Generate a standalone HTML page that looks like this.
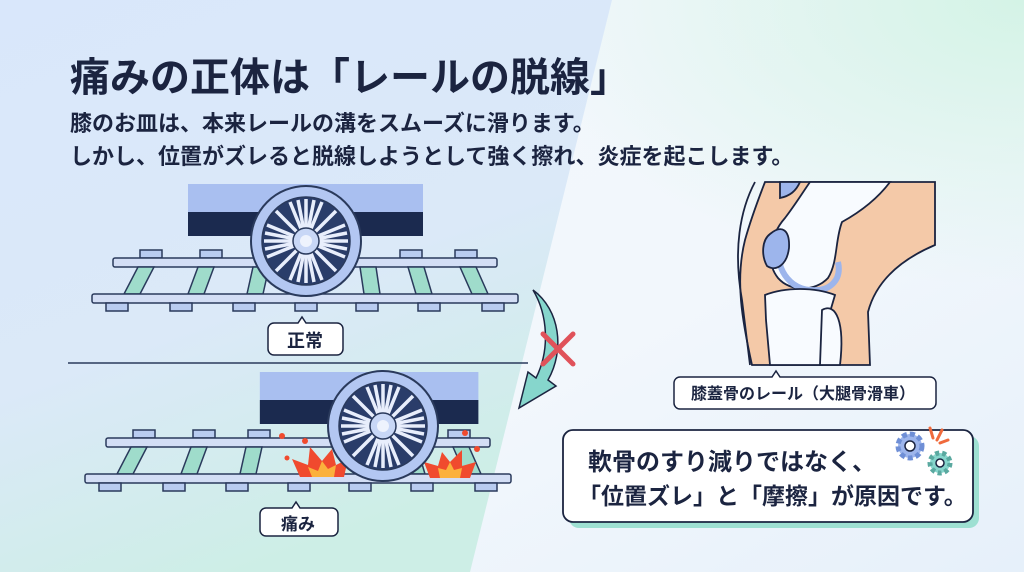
<!DOCTYPE html>
<html><head><meta charset="utf-8"><style>
body{margin:0;width:1024px;height:572px;overflow:hidden;font-family:"Liberation Sans","Noto Sans CJK JP",sans-serif}
</style></head><body>
<svg width="1024" height="572" viewBox="0 0 1024 572" xmlns="http://www.w3.org/2000/svg" font-family="Liberation Sans, Noto Sans CJK JP, sans-serif">
<defs>
<linearGradient id="bgR" x1="0" y1="0" x2="1" y2="1"><stop offset="0" stop-color="#f4f8fd"/><stop offset="0.6" stop-color="#f2f7fc"/><stop offset="1" stop-color="#e6f0fa"/></linearGradient>
<linearGradient id="bgL" x1="0" y1="0" x2="0.4" y2="1"><stop offset="0" stop-color="#d9e7fb"/><stop offset="0.6" stop-color="#dbe9f8"/><stop offset="1" stop-color="#cdeee6"/></linearGradient>
<radialGradient id="mint" cx="1" cy="0" r="0.5"><stop offset="0" stop-color="#d4f3e6"/><stop offset="1" stop-color="#d4f3e6" stop-opacity="0"/></radialGradient>
<g id="track" stroke="#2a3a5c" stroke-width="1.5">
 <g fill="#b9ccf0">
  <rect x="140" y="250" width="22" height="8"/><rect x="200" y="250" width="22" height="8"/><rect x="255" y="250" width="22" height="8"/><rect x="400" y="250" width="22" height="8"/><rect x="455" y="250" width="22" height="8"/>
 </g>
 <rect x="113" y="258" width="384" height="9" rx="2" fill="#d3def5"/>
 <g fill="#9fdccb">
  <path d="M138 267h16l-14 27h-16z"/><path d="M198 267h16l-10 27h-16z"/><path d="M253 267h16l-6 27h-16z"/><path d="M360 267h16l4 27h-16z"/><path d="M408 267h16l8 27h-16z"/><path d="M460 267h16l12 27h-16z"/>
 </g>
 <rect x="92" y="294" width="426" height="9" rx="2" fill="#d3def5"/>
 <g fill="#b9ccf0">
  <rect x="106" y="303" width="22" height="8"/><rect x="170" y="303" width="22" height="8"/><rect x="233" y="303" width="22" height="8"/><rect x="295" y="303" width="22" height="8"/><rect x="356" y="303" width="22" height="8"/><rect x="418" y="303" width="22" height="8"/><rect x="482" y="303" width="22" height="8"/>
 </g>
</g>
<g id="car">
 <rect x="188" y="184" width="235" height="28" fill="#a9bff0"/>
 <rect x="188" y="212" width="235" height="24" fill="#1b2a4f"/>
</g>
<g id="wheel">
 <circle r="55" fill="#b3c7f2" stroke="#2a3a5c" stroke-width="2"/>
 <circle r="44" fill="#2a3d6a" stroke="#2a3a5c" stroke-width="1.5"/>
 <g stroke="#e8eefc" stroke-width="3.5">
  <line x1="0" y1="-42" x2="0" y2="42"/><line x1="-42" y1="0" x2="42" y2="0"/>
  <line x1="-30" y1="-30" x2="30" y2="30"/><line x1="30" y1="-30" x2="-30" y2="30"/>
  <line x1="-16" y1="-39" x2="16" y2="39"/><line x1="16" y1="-39" x2="-16" y2="39"/>
  <line x1="-39" y1="-16" x2="39" y2="16"/><line x1="39" y1="-16" x2="-39" y2="16"/>
  <line x1="-8" y1="-41" x2="8" y2="41"/><line x1="8" y1="-41" x2="-8" y2="41"/>
  <line x1="-41" y1="-8" x2="41" y2="8"/><line x1="41" y1="-8" x2="-41" y2="8"/>
 </g>
 <circle r="13" fill="#c8d7f6" stroke="#2a3a5c" stroke-width="1.5"/>
 <circle r="6" fill="#eef3fd"/>
</g>
</defs>
<rect width="1024" height="572" fill="url(#bgR)"/>
<rect width="1024" height="572" fill="url(#mint)"/>
<path d="M0 0H612L470 572H0Z" fill="url(#bgL)"/>

<text x="70" y="91" font-size="40" font-weight="bold" fill="#1b2440">痛みの正体は「レールの脱線」</text>
<text x="70" y="131" font-size="22" font-weight="bold" fill="#1b2440">膝のお皿は、本来レールの溝をスムーズに滑ります。</text>
<text x="70" y="164" font-size="22" font-weight="bold" fill="#1b2440">しかし、位置がズレると脱線しようとして強く擦れ、炎症を起こします。</text>

<!-- top scene -->
<use href="#car"/>
<use href="#track"/>
<use href="#wheel" x="306" y="241"/>
<path d="M274 323h24l4-6 4 6h31a6 6 0 0 1 6 6v20a6 6 0 0 1-6 6h-63a6 6 0 0 1-6-6v-20a6 6 0 0 1 6-6z" fill="#fff" stroke="#1b2440" stroke-width="1.5"/>
<text x="305" y="347" font-size="18" font-weight="bold" text-anchor="middle" fill="#1b2440">正常</text>
<line x1="68" y1="363" x2="528" y2="363" stroke="#2a3a5c" stroke-width="1.5"/>

<!-- bottom scene -->
<use href="#car" transform="translate(85,188) scale(0.93,1)" />
<use href="#track" transform="translate(-7,180)"/>
<g>
 <path d="M300 477l-8-18 16 6 2-18 12 14 10-12 4 16 12-6-4 18z" fill="#f04a2e"/>
 <path d="M312 477l-4-10 10 4 4-10 6 8 8-4-2 12z" fill="#fbb13c"/>
 <path d="M470 478l6-16-14 4 0-16-12 12-8-10-4 14-14-4 6 16z" fill="#f04a2e"/>
 <path d="M460 478l2-10-8 2-4-8-4 8-8-2 2 10z" fill="#fbb13c"/>
 <circle cx="282" cy="436" r="3" fill="#f04a2e"/><circle cx="305" cy="441" r="3" fill="#f04a2e"/><circle cx="287" cy="458" r="2.5" fill="#f04a2e"/><circle cx="465" cy="433" r="3" fill="#f04a2e"/><circle cx="477" cy="449" r="3" fill="#f04a2e"/>
</g>
<use href="#wheel" x="383" y="426"/>
<path d="M266 508h26l4-6 4 6h32a6 6 0 0 1 6 6v16a6 6 0 0 1-6 6h-66a6 6 0 0 1-6-6v-16a6 6 0 0 1 6-6z" fill="#fff" stroke="#1b2440" stroke-width="1.5"/>
<text x="298" y="530" font-size="17" font-weight="bold" text-anchor="middle" fill="#1b2440">痛み</text>

<!-- arrow -->
<path d="M533 290 C560 310 565 350 548 380 L556 386 L519 408 L528 372 L536 378 C550 350 548 315 533 290Z" fill="#86d6cc" stroke="#1b2440" stroke-width="1.5"/>
<g stroke="#e0525a" stroke-width="5" stroke-linecap="round"><line x1="543" y1="334" x2="573" y2="364"/><line x1="573" y1="334" x2="543" y2="364"/></g>

<!-- knee -->
<g stroke="#1b2440" stroke-width="1.8">
 <path d="M765 182H935V245C895 262 875 285 868 312L870 365H752C742 320 735 280 745 240C752 215 760 195 765 182Z" fill="#f4c9a8"/>
 <path d="M810 182H890C878 198 860 212 842 222C835 240 838 262 828 278C815 292 790 292 778 278C765 262 770 235 785 218C795 205 803 192 810 182Z" fill="#f8fbff"/>
 <path d="M780 182h20c-4 9-10 14-20 16z" fill="#9db5ec"/>
 <path d="M782 240C772 260 785 288 810 290C830 292 842 280 838 262" fill="none" stroke="#9db5ec" stroke-width="6"/>
 <path d="M770 234C782 224 790 230 789 248C787 265 776 272 767 266C761 255 762 240 770 234Z" fill="#9db5ec"/>
 <path d="M765 295C785 287 815 287 835 295L830 312L822 365H770L766 320Z" fill="#f8fbff"/>
 <path d="M822 310C836 302 845 322 840 365H820Z" fill="#f8fbff"/>
 <path d="M755 182C740 210 733 250 742 300L750 365" fill="none"/>
</g>
<path d="M680 377h92l4-6 4 6h150a6 6 0 0 1 6 6v20a6 6 0 0 1-6 6h-250a6 6 0 0 1-6-6v-20a6 6 0 0 1 6-6z" fill="#fff" stroke="#1b2440" stroke-width="1.5"/>
<text x="803" y="399" font-size="16" font-weight="bold" text-anchor="middle" fill="#1b2440">膝蓋骨のレール（大腿骨滑車）</text>

<!-- callout -->
<rect x="569" y="436" width="410" height="92" rx="10" fill="#9ee0d2"/>
<rect x="563" y="430" width="410" height="92" rx="10" fill="#fff" stroke="#1b2440" stroke-width="1.8"/>
<text x="588" y="470" font-size="24" font-weight="bold" fill="#1b2440">軟骨のすり減りではなく、</text>
<text x="578" y="504" font-size="23" font-weight="bold" fill="#1b2440">「位置ズレ」と「摩擦」が原因です。</text>
<g fill="none" stroke="#1b2440" stroke-width="1.5">
 <circle cx="910" cy="446" r="12" fill="#9db5ec" stroke-dasharray="5 3" stroke-width="5" stroke="#6f8fd6"/>
 <circle cx="910" cy="446" r="5" fill="#fff"/>
 <circle cx="940" cy="463" r="10" fill="#86d6cc" stroke-dasharray="4 3" stroke-width="5" stroke="#5aa9a0"/>
 <circle cx="940" cy="463" r="4" fill="#fff"/>
</g>
<g stroke="#f06a3c" stroke-width="3" stroke-linecap="round"><line x1="930" y1="428" x2="933" y2="438"/><line x1="942" y1="430" x2="937" y2="440"/><line x1="948" y1="440" x2="940" y2="443"/></g>
</svg>
</body></html>
